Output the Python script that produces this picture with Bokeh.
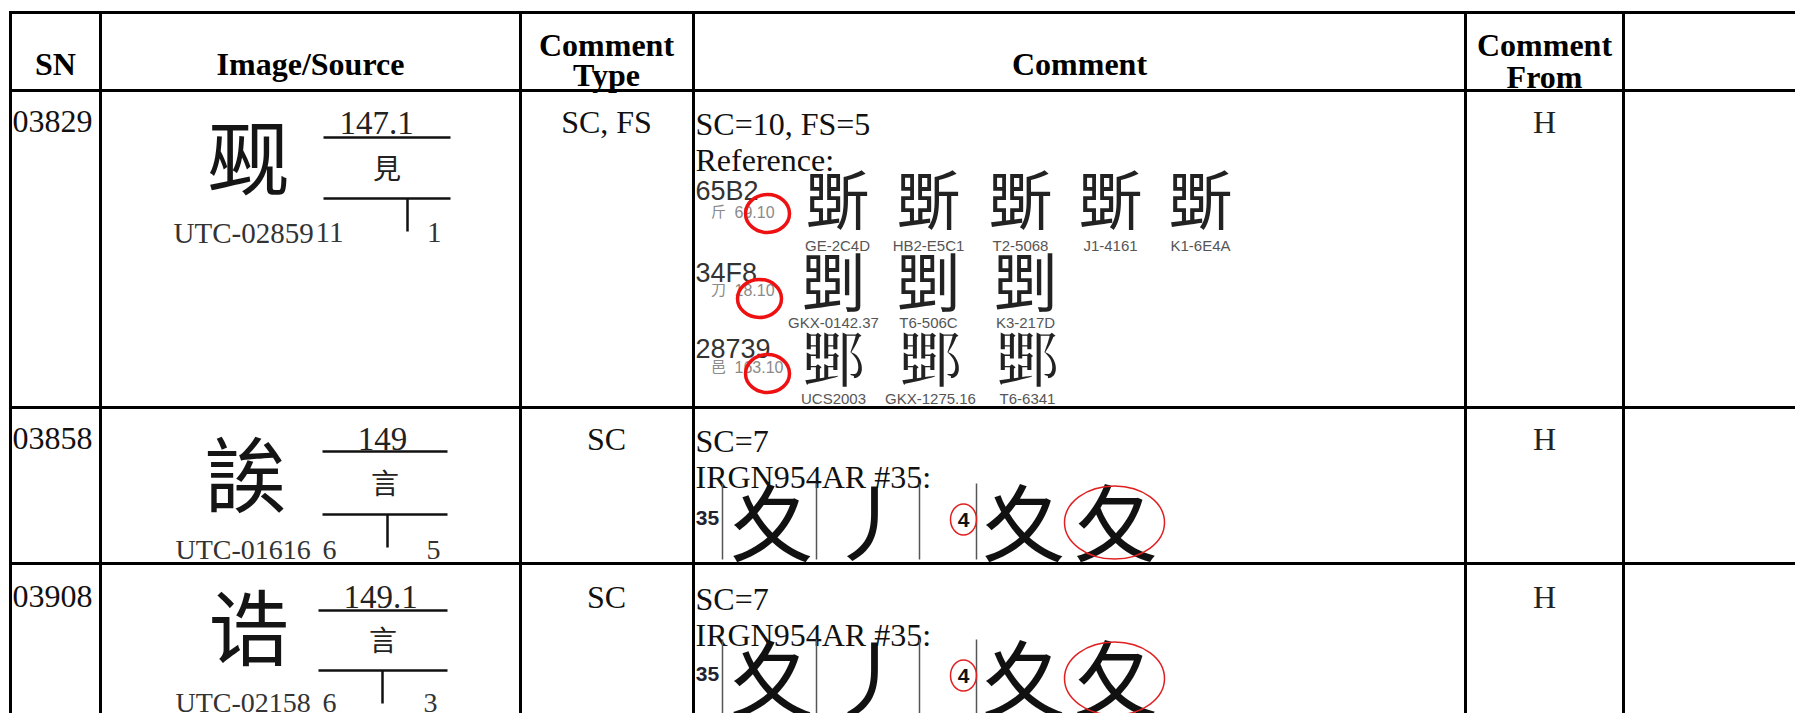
from bokeh.plotting import figure
from bokeh.models import Range1d
from bokeh.core.properties import value
from bokeh.embed import file_html
from bokeh.resources import INLINE

# ---------------- data ----------------
header_titles = ["SN", "Image/Source", "Comment Type", "Comment", "Comment From", ""]
sn_values = ["03829", "03858", "03908"]
source_ids = ["UTC-02859", "UTC-01616", "UTC-02158"]
source_glyphs = ["觋", "誒", "诰"]          # closest encoded look-alikes of the proposed glyphs
radical_codes = ["147.1", "149", "149.1"]
radical_chars = ["見", "言", "言"]
strokes_left = ["11", "6", "6"]
strokes_right = ["1", "5", "3"]
comment_types = ["SC, FS", "SC", "SC"]
comment_line1 = ["SC=10, FS=5", "SC=7", "SC=7"]
comment_line2 = ["Reference:", "IRGN954AR #35:", "IRGN954AR #35:"]
comment_from = ["H", "H", "H"]

ref_codes = ["65B2", "34F8", "28739"]
ref_chars = ["斲", "㓸", "𨜹"]
ref_radicals = ["斤", "刀", "邑"]
ref_rs = ["69.10", "18.10", "163.10"]
ref_sources = [
    ["GE-2C4D", "HB2-E5C1", "T2-5068", "J1-4161", "K1-6E4A"],
    ["GKX-0142.37", "T6-506C", "K3-217D"],
    ["UCS2003", "GKX-1275.16", "T6-6341"],
]
irg_number = "35"
irg_glyphs = ["夊", "丿", "夊", "夂"]
irg_circled = "4"

# ---------------- layout ----------------
W, H = 1795, 713
SERIF = "Liberation Serif"
SANS = "Liberation Sans"
CJK = "Noto Sans CJK SC"
CJKT = "Noto Sans CJK TC"

p = figure(width=W, height=H, x_range=Range1d(0, W), y_range=Range1d(H, 0),
           output_backend="svg", toolbar_location=None, min_border=0,
           x_axis_type=None, y_axis_type=None, title=None)
p.outline_line_color = None
p.background_fill_color = "white"
p.border_fill_color = "white"


def txt(x, y, s, size, font=SERIF, style="normal", color="#111111", align="left", baseline="alphabetic"):
    p.text(x=[x], y=[y], text=[s], text_font=value(font), text_font_size=f"{size}px",
           text_font_style=style, text_color=color, text_align=align, text_baseline=baseline)


def cjk(x, yc, s, size, font=CJK, color="#111111", align="center"):
    # place an ideograph by the centre of its ink box
    txt(x, yc - 0.085 * size, s, size, font=font, color=color, align=align, baseline="middle")


def seg(x0, y0, x1, y1, w=3, color="black"):
    p.segment(x0=[x0], y0=[y0], x1=[x1], y1=[y1], line_width=w, line_color=color)


# table grid
col_x = [10, 100, 520, 693, 1465, 1623]
row_y = [12, 90, 407, 563]
for y in row_y:
    seg(8.5, y, 1800, y)
for x in col_x:
    seg(x, 10.5, x, 720)

# header
HB = 32
txt(55, 63, header_titles[0], HB, style="bold", color="black", align="center")
txt(310, 63, header_titles[1], HB, style="bold", color="black", align="center")
ct1, ct2 = header_titles[2].split(" ")
txt(606, 44, ct1, HB, style="bold", color="black", align="center")
txt(606, 74, ct2, HB, style="bold", color="black", align="center")
txt(1079, 63, header_titles[3], HB, style="bold", color="black", align="center")
cf1, cf2 = header_titles[4].split(" ")
txt(1544, 44, cf1, HB, style="bold", color="black", align="center")
txt(1544, 76, cf2, HB, style="bold", color="black", align="center")

# rows
row_base = [121, 438, 596]
for i in range(3):
    b = row_base[i]
    txt(12, b, sn_values[i], 32)
    txt(606, b, comment_types[i], 32, align="center")
    txt(1544, b, comment_from[i], 32, color="#222222", align="center")
    txt(695, b + 2, comment_line1[i], 32)
    txt(695, b + 38, comment_line2[i], 32)

# image / source cells
cell = [
    dict(gx=248, gy=160, cx=376, cb=122, l1=137, l2=198, lx0=323, lx1=450, tick=407, sb=232, sx=173, s1=315, s2=441, fs=29),
    dict(gx=245, gy=477, cx=382, cb=438, l1=451, l2=514, lx0=322, lx1=447, tick=387, sb=549, sx=175, s1=322, s2=440, fs=28),
    dict(gx=248, gy=630, cx=380, cb=596, l1=610, l2=670, lx0=318, lx1=447, tick=382, sb=702, sx=175, s1=322, s2=437, fs=28),
]
for i, c in enumerate(cell):
    cjk(c["gx"], c["gy"], source_glyphs[i], 82, font=CJK if i == 2 else CJKT, color="#151515")
    txt(c["cx"], c["cb"], radical_codes[i], 33, color="#222222", align="center")
    seg(c["lx0"], c["l1"], c["lx1"], c["l1"], w=2.5, color="#111111")
    cjk((c["lx0"] + c["lx1"]) / 2, (c["l1"] + c["l2"]) / 2 + 1, radical_chars[i], 28, font=CJKT, color="#222222")
    seg(c["lx0"], c["l2"], c["lx1"], c["l2"], w=2.5, color="#111111")
    seg(c["tick"], c["l2"], c["tick"], c["l2"] + 33, w=2.5, color="#111111")
    txt(c["sx"], c["sb"], source_ids[i], c["fs"], color="#333333")
    txt(c["s1"], c["sb"], strokes_left[i], c["fs"], color="#333333")
    txt(c["s2"], c["sb"], strokes_right[i], c["fs"], color="#333333", align="right")

# reference block in row 1 comment
ref_base = [190, 272, 348]
ref_mid = [211, 289, 366]
glyph_mid = [201, 283, 360]
label_mid = [245, 322, 398]
glyph_x = [[837, 928, 1020, 1110, 1200], [833, 928, 1025], [833, 930, 1027]]
circle_c = [(767, 213), (759, 298), (767, 373)]
for r in range(3):
    txt(695, ref_base[r], ref_codes[r], 27, font=SANS, color="#333333")
    cjk(718, ref_mid[r], ref_radicals[r], 15, color="#8a8a8a")
    txt(734, ref_mid[r], ref_rs[r], 16, font=SANS, color="#8a8a8a", baseline="middle")
    p.ellipse(x=[circle_c[r][0]], y=[circle_c[r][1]], width=44, height=38, fill_color=None,
              line_color="#ee1111", line_width=3.5)
    for k, gx in enumerate(glyph_x[r]):
        cjk(gx, glyph_mid[r], ref_chars[r], 64, font=CJKT, color="#222222")
        txt(gx, label_mid[r], ref_sources[r][k], 15, font=SANS, color="#555555", align="center", baseline="middle")

# IRG N954AR #35 strips in rows 2 and 3
for off in (0, 156):
    yc = 521 + off
    txt(707, yc - 4, irg_number, 21, font=SANS, style="bold", color="#222233", align="center", baseline="middle")
    for bx in (722, 816, 919, 976):
        seg(bx, 483 + off, bx, 559 + off, w=1.5, color="#555555")
    gxs = [771, 870, 1023, 1115]
    for g, gx in zip(irg_glyphs, gxs):
        cjk(gx, yc + 4, g, 84, color="#111111")
    p.ellipse(x=[963], y=[519 + off], width=26, height=31, fill_color=None, line_color="#e02020", line_width=1.5)
    txt(963, 519 + off, irg_circled, 21, font=SANS, style="bold", color="#111111", align="center", baseline="middle")
    p.ellipse(x=[1114], y=[522 + off], width=100, height=73, fill_color=None, line_color="#e02020", line_width=1.5)

open("out.html", "w").write(file_html(p, INLINE))
